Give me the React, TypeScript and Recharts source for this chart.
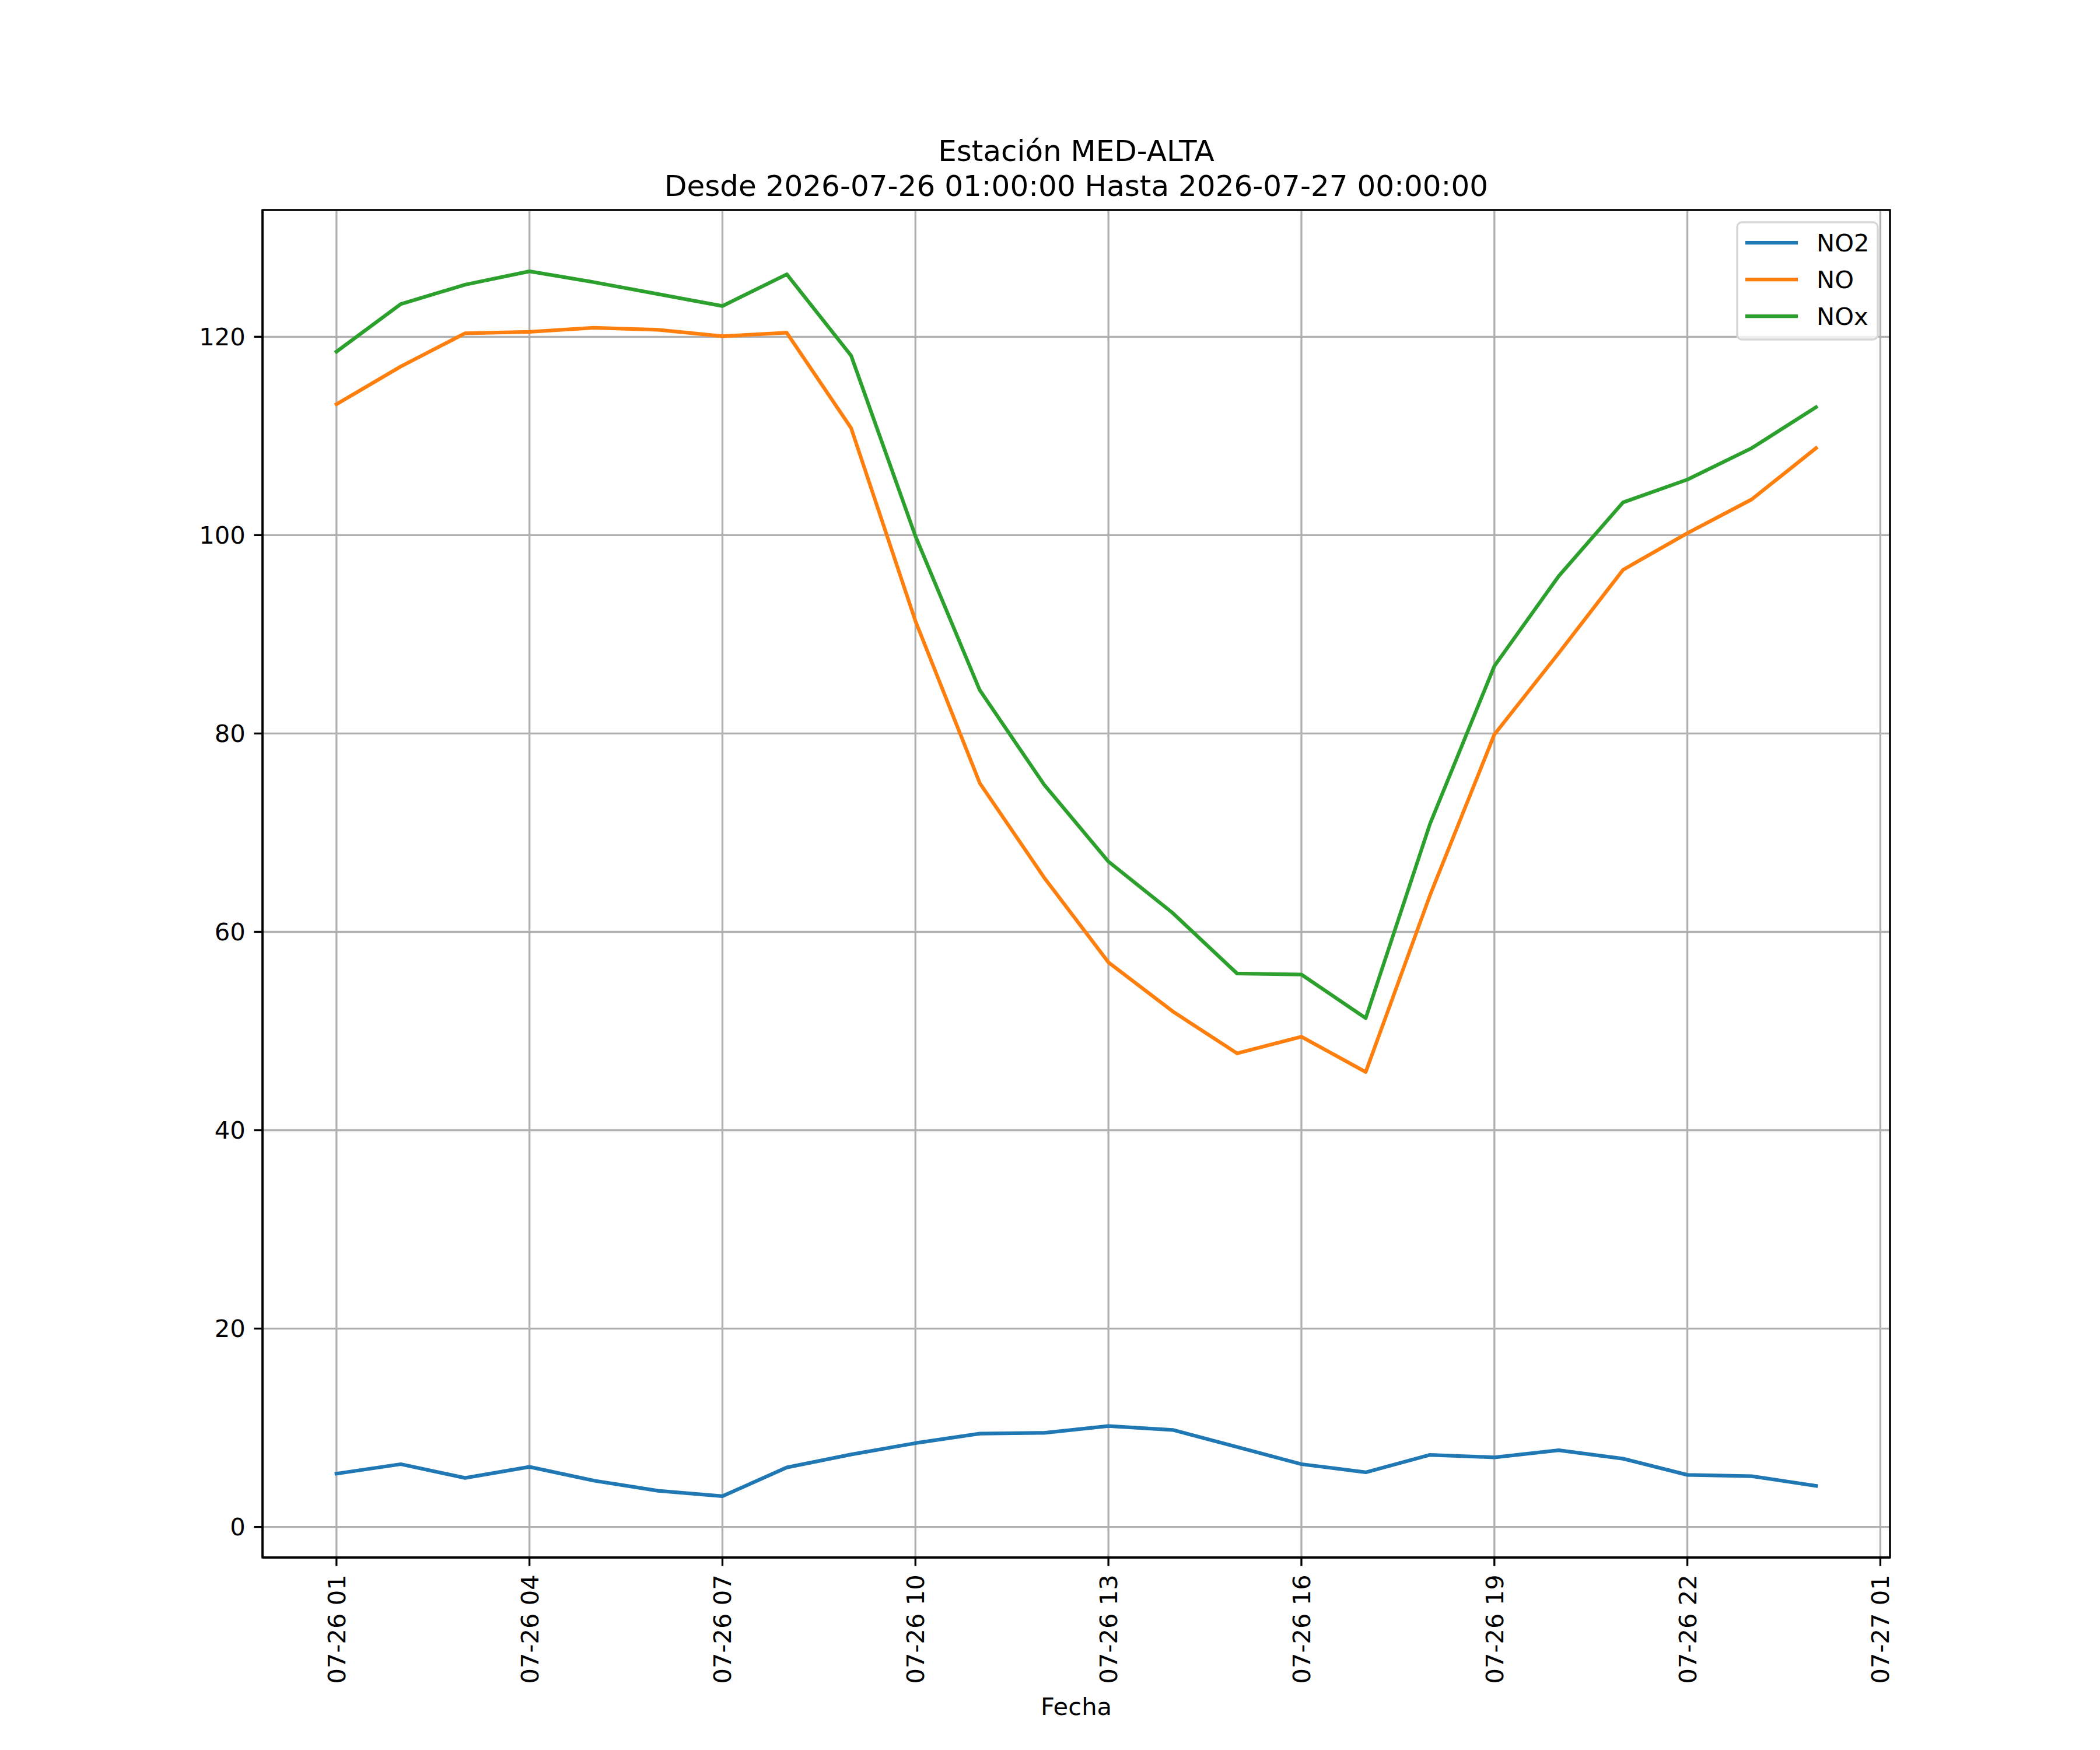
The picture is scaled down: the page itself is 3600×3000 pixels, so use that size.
import React from "react";
import { LineChart, Line, XAxis, YAxis, CartesianGrid } from "recharts";

const times = [
  "01:00", "02:00", "03:00", "04:00", "05:00", "06:00", "07:00", "08:00",
  "09:00", "10:00", "11:00", "12:00", "13:00", "14:00", "15:00", "16:00",
  "17:00", "18:00", "19:00", "20:00", "21:00", "22:00", "23:00", "00:00",
];
const no2 = [5.37, 6.33, 4.94, 6.06, 4.67, 3.65, 3.1, 6.0, 7.31, 8.45, 9.41, 9.49, 10.18, 9.78, 8.06, 6.33, 5.51, 7.27, 7.02, 7.73, 6.88, 5.25, 5.12, 4.14];
const no = [113.2, 117.0, 120.35, 120.5, 120.9, 120.7, 120.06, 120.4, 110.8, 91.34, 75.0, 65.48, 56.93, 51.98, 47.75, 49.43, 45.87, 63.7, 79.9, 88.1, 96.5, 100.2, 103.6, 108.77];
const nox = [118.5, 123.3, 125.25, 126.6, 125.5, 124.3, 123.1, 126.3, 118.1, 99.9, 84.37, 74.85, 67.09, 61.9, 55.8, 55.7, 51.3, 70.9, 86.8, 95.87, 103.3, 105.6, 108.77, 112.9];

const xTicks = [0, 3, 6, 9, 12, 15, 18, 21, 24];
const xTickLabels = ["07-26 01", "07-26 04", "07-26 07", "07-26 10", "07-26 13", "07-26 16", "07-26 19", "07-26 22", "07-27 01"];
const yTicks = [0, 20, 40, 60, 80, 100, 120];

const titleLines = ["Estación MED-ALTA", "Desde 2026-07-26 01:00:00 Hasta 2026-07-27 00:00:00"];
const xLabel = "Fecha";
const seriesNames = ["NO2", "NO", "NOx"];
const seriesColors = ["#1f77b4", "#ff7f0e", "#2ca02c"];

const data = times.map((t, i) => ({ h: i, time: t, no2: no2[i], no: no[i], nox: nox[i] }));

const FONT = "'DejaVu Sans', sans-serif";
const FS = 41.67;
const LW = 6.25;
const SPINE = 3.33;

const XTick = (props: any) => {
  const { x, y, payload } = props;
  const idx = xTicks.indexOf(payload.value);
  const label = idx >= 0 ? xTickLabels[idx] : "";
  return (
    <text
      x={x}
      y={y}
      transform={`rotate(-90, ${x}, ${y})`}
      textAnchor="end"
      dy="0.36em"
      fontSize={FS}
      fontFamily={FONT}
      fill="#000"
    >
      {label}
    </text>
  );
};

export default function App() {
  const legendTop = 381;
  const legendRows = [416, 479, 542];
  return (
    <div style={{ position: "absolute", left: 0, top: 0, width: 3600, height: 3000, background: "#fff" }}>
      <LineChart
        width={3600}
        height={3000}
        data={data}
        margin={{ top: 360, right: 360, bottom: 0, left: 0 }}
        style={{ fontFamily: FONT }}
      >
        <CartesianGrid stroke="#b0b0b0" strokeWidth={SPINE} />
        <XAxis
          dataKey="h"
          type="number"
          domain={[-1.15, 24.15]}
          ticks={xTicks}
          interval={0}
          height={330}
          tickSize={14.6}
          tickMargin={14.6}
          axisLine={{ stroke: "#000", strokeWidth: SPINE }}
          tickLine={{ stroke: "#000", strokeWidth: SPINE }}
          tick={<XTick />}
          label={{ value: xLabel, position: "insideBottom", offset: 60, fontSize: FS, fill: "#000", fontFamily: FONT }}
        />
        <YAxis
          type="number"
          domain={[-3.08, 132.78]}
          ticks={yTicks}
          interval={0}
          width={450}
          tickSize={14.6}
          tickMargin={14.6}
          axisLine={{ stroke: "#000", strokeWidth: SPINE }}
          tickLine={{ stroke: "#000", strokeWidth: SPINE }}
          tick={{ fontSize: FS, fill: "#000", fontFamily: FONT }}
        />
        <Line dataKey="no2" name={seriesNames[0]} stroke={seriesColors[0]} strokeWidth={LW} dot={false} activeDot={false} isAnimationActive={false} strokeLinejoin="round" strokeLinecap="square" />
        <Line dataKey="no" name={seriesNames[1]} stroke={seriesColors[1]} strokeWidth={LW} dot={false} activeDot={false} isAnimationActive={false} strokeLinejoin="round" strokeLinecap="square" />
        <Line dataKey="nox" name={seriesNames[2]} stroke={seriesColors[2]} strokeWidth={LW} dot={false} activeDot={false} isAnimationActive={false} strokeLinejoin="round" strokeLinecap="square" />
      </LineChart>
      <svg
        width={3600}
        height={3000}
        style={{ position: "absolute", left: 0, top: 0, pointerEvents: "none" }}
      >
        <rect x={450} y={360} width={2790} height={2310} fill="none" stroke="#000" strokeWidth={SPINE} />
        <text x={1845} y={276} textAnchor="middle" fontSize={50} fontFamily={FONT} fill="#000">
          {titleLines[0]}
        </text>
        <text x={1845} y={336} textAnchor="middle" fontSize={50} fontFamily={FONT} fill="#000">
          {titleLines[1]}
        </text>
        <rect
          x={2978}
          y={legendTop}
          width={241}
          height={201}
          rx={8}
          ry={8}
          fill="#fff"
          fillOpacity={0.8}
          stroke="#d6d6d6"
          strokeWidth={SPINE}
        />
        {seriesNames.map((n, i) => (
          <g key={n}>
            <line x1={2992} x2={3082} y1={legendRows[i]} y2={legendRows[i]} stroke={seriesColors[i]} strokeWidth={LW} />
            <text x={3114} y={legendRows[i]} dy="0.36em" fontSize={FS} fontFamily={FONT} fill="#000">
              {n}
            </text>
          </g>
        ))}
      </svg>
    </div>
  );
}
